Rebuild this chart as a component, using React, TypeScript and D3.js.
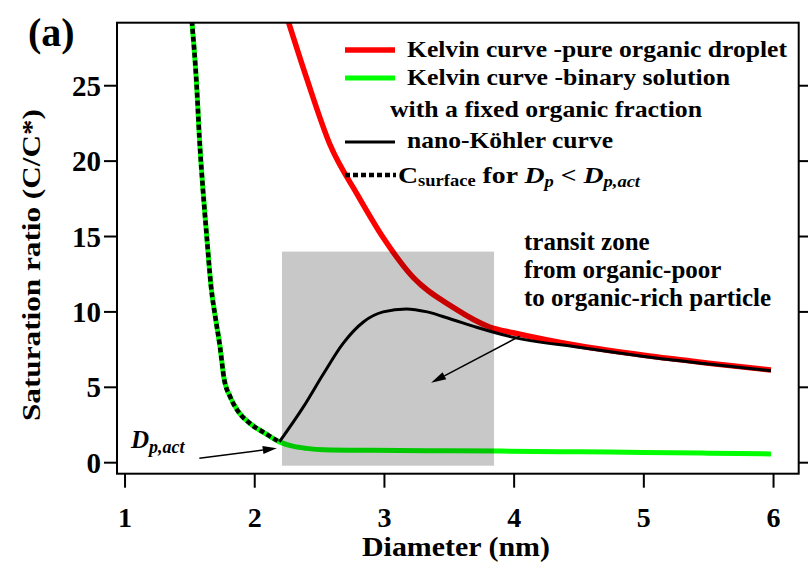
import React from "react";
import * as d3 from "d3";

const xTicks = [1, 2, 3, 4, 5, 6];
const yTicks = [0, 5, 10, 15, 20, 25];

const greenX = [1.515, 1.553, 1.573, 1.599, 1.63, 1.663, 1.7, 1.732, 1.763, 1.81, 1.874, 1.964, 2.08, 2.19, 2.3, 2.4, 2.53, 2.9, 3.33, 3.9, 4.5, 5.0, 5.5, 5.98];
const greenY = [29.3, 24.9, 21.6, 18.3, 15.0, 11.7, 9.46, 7.7, 5.6, 4.38, 3.38, 2.6, 1.95, 1.38, 1.08, 0.95, 0.86, 0.82, 0.8, 0.77, 0.72, 0.68, 0.63, 0.58];
const dottedX = [1.515, 1.553, 1.573, 1.599, 1.63, 1.663, 1.7, 1.732, 1.763, 1.81, 1.874, 1.964, 2.08, 2.19];
const dottedY = [29.3, 24.9, 21.6, 18.3, 15.0, 11.7, 9.46, 7.7, 5.6, 4.38, 3.38, 2.6, 1.95, 1.38];
const redX = [2.25, 2.4, 2.58, 2.79, 3.0, 3.22, 3.53, 3.81, 4.0, 4.5, 5.0, 5.5, 5.98];
const redY = [29.5, 25.5, 21.1, 17.8, 14.8, 12.3, 10.3, 9.0, 8.6, 7.75, 7.12, 6.6, 6.15];
const blackX = [2.19, 2.375, 2.53, 2.68, 2.84, 2.99, 3.17, 3.33, 3.51, 3.71, 3.97, 4.5, 5.0, 5.5, 5.98];
const blackY = [1.38, 3.7, 5.9, 7.9, 9.35, 10.0, 10.2, 10.0, 9.53, 8.98, 8.36, 7.65, 7.05, 6.55, 6.1];

const zoneX = [2.21, 3.845];
const zoneY = [-0.2, 14];

const legendLabels = [
  "Kelvin curve -pure organic droplet",
  "Kelvin curve -binary solution",
  "with a fixed organic fraction",
  "nano-Köhler curve",
];
const zoneLabels = ["transit zone", "from organic-poor", "to organic-rich particle"];

const FONT = "'Liberation Serif', 'Times New Roman', serif";

function arrow(x1: number, y1: number, x2: number, y2: number, len = 14, hw = 4) {
  const a = Math.atan2(y2 - y1, x2 - x1);
  const bx = x2 - len * Math.cos(a);
  const by = y2 - len * Math.sin(a);
  const px = -Math.sin(a) * hw;
  const py = Math.cos(a) * hw;
  return {
    line: `M${x1},${y1}L${bx},${by}`,
    head: `M${x2},${y2}L${bx + px},${by + py}L${bx - px},${by - py}Z`,
  };
}

export default function App() {
  const W = 808, H = 564;
  const L = 117, R = 798.7, T = 22.7, B = 473.7;
  const x = d3.scaleLinear().domain([0.938, 6.194]).range([L, R]);
  const y = d3.scaleLinear().domain([-0.73, 29.18]).range([B, T]);

  const line = (xs: number[], ys: number[]) =>
    d3.line<number>().x((_, i) => x(xs[i])).y((_, i) => y(ys[i])).curve(d3.curveMonotoneX)(xs.map((_, i) => i)) || "";

  const a1 = arrow(x(1.573), y(0.29), x(2.17), y(0.96));
  const a2 = arrow(x(4.045), y(8.4), x(3.36), y(5.3), 15, 4);

  return (
    <svg width={W} height={H} style={{ position: "absolute", left: 0, top: 0, background: "#fff" }} fontFamily={FONT}>
      <defs>
        <clipPath id="plot">
          <rect x={L} y={T} width={R - L} height={B - T} />
        </clipPath>
      </defs>
      <rect x={0} y={0} width={W} height={H} fill="#fff" />
      <g clipPath="url(#plot)">
        <path d={line(redX, redY)} fill="none" stroke="#ff0000" strokeWidth={5.5} strokeLinejoin="round" />
        <path d={line(greenX, greenY)} fill="none" stroke="#00ff00" strokeWidth={5} strokeLinejoin="round" />
        <path d={line(blackX, blackY)} fill="none" stroke="#000" strokeWidth={3} strokeLinejoin="round" />
        <path d={line(dottedX, dottedY)} fill="none" stroke="#000" strokeWidth={4.5} strokeDasharray="5,3" />
        <rect
          x={x(zoneX[0])}
          y={y(zoneY[1])}
          width={x(zoneX[1]) - x(zoneX[0])}
          height={y(zoneY[0]) - y(zoneY[1])}
          fill="#c8c8c8"
          style={{ mixBlendMode: "multiply" }}
        />
      </g>
      {/* frame */}
      <rect x={L} y={T} width={R - L} height={B - T} fill="none" stroke="#000" strokeWidth={2} />
      {/* y ticks */}
      {yTicks.map((t) => (
        <g key={"y" + t}>
          <line x1={L - 13} x2={L} y1={y(t)} y2={y(t)} stroke="#000" strokeWidth={2} />
          <line x1={R} x2={R + 10} y1={y(t)} y2={y(t)} stroke="#000" strokeWidth={2} />
          <text x={L - 16} y={y(t)} dy="0.35em" textAnchor="end" fontSize={29} fontWeight="bold">
            {t}
          </text>
        </g>
      ))}
      {/* x ticks */}
      {xTicks.map((t) => (
        <g key={"x" + t}>
          <line x1={x(t)} x2={x(t)} y1={B} y2={B + 14} stroke="#000" strokeWidth={2} />
          <text x={x(t)} y={527} textAnchor="middle" fontSize={28} fontWeight="bold">
            {t}
          </text>
        </g>
      ))}
      <text x={456} y={556} textAnchor="middle" fontSize={27} fontWeight="bold" textLength={188} lengthAdjust="spacingAndGlyphs">
        Diameter (nm)
      </text>
      <text transform="translate(40,265) rotate(-90)" textAnchor="middle" fontSize={26} fontWeight="bold" textLength={312} lengthAdjust="spacingAndGlyphs">
        Saturation ratio (C/C*)
      </text>
      <text x={28} y={46} fontSize={40} fontWeight="bold">
        (a)
      </text>

      {/* legend */}
      <line x1={345} x2={395} y1={50} y2={50} stroke="#ff0000" strokeWidth={5.5} />
      <line x1={345} x2={395} y1={78} y2={78} stroke="#00ff00" strokeWidth={5} />
      <line x1={345} x2={395} y1={142} y2={142} stroke="#000" strokeWidth={3} />
      <line x1={345} x2={396} y1={175} y2={175} stroke="#000" strokeWidth={4.5} strokeDasharray="5,3" />
      <g fontSize={24} fontWeight="bold">
        <text x={407} y={57} textLength={380} lengthAdjust="spacingAndGlyphs">{legendLabels[0]}</text>
        <text x={407} y={85} textLength={323} lengthAdjust="spacingAndGlyphs">{legendLabels[1]}</text>
        <text x={390} y={117} textLength={312} lengthAdjust="spacingAndGlyphs">{legendLabels[2]}</text>
        <text x={407} y={148} textLength={206} lengthAdjust="spacingAndGlyphs">{legendLabels[3]}</text>
        <text x={398} y={183} textLength={242} lengthAdjust="spacingAndGlyphs">
          <tspan>C</tspan>
          <tspan fontSize={16} dy={3}>surface</tspan>
          <tspan dy={-3}> for </tspan>
          <tspan fontStyle="italic">D</tspan>
          <tspan fontStyle="italic" fontSize={16} dy={4}>p</tspan>
          <tspan dy={-4}> &lt; </tspan>
          <tspan fontStyle="italic">D</tspan>
          <tspan fontStyle="italic" fontSize={16} dy={4}>p,act</tspan>
        </text>
      </g>

      {/* zone annotation */}
      <g fontSize={25} fontWeight="bold">
        {zoneLabels.map((s, i) => (
          <text key={s} x={524} y={250 + i * 28}>
            {s}
          </text>
        ))}
      </g>
      <path d={a2.line} stroke="#000" strokeWidth={1.5} fill="none" />
      <path d={a2.head} fill="#000" />

      {/* Dp,act */}
      <text x={131} y={448} fontSize={25} fontStyle="italic" fontWeight="bold">
        <tspan>D</tspan>
        <tspan fontSize={18} dy={5}>p,act</tspan>
      </text>
      <path d={a1.line} stroke="#000" strokeWidth={1.5} fill="none" />
      <path d={a1.head} fill="#000" />
    </svg>
  );
}
